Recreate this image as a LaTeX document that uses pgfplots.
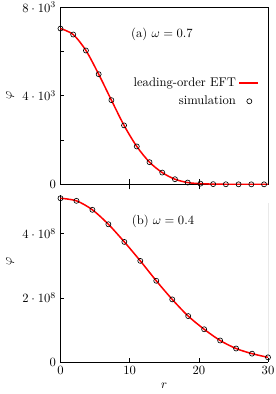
\documentclass[border=0pt]{standalone}
\usepackage{pgfplots}
\pgfplotsset{compat=1.18}
\pgfplotstableread{
r v
0.00 7030
1.84 6760
3.68 6040
5.52 4970
7.36 3800
9.19 2660
11.03 1710
12.87 1000
14.71 530
16.55 230
18.39 80
20.23 30
22.07 10
23.91 3
25.75 1
27.59 0
29.43 0
}\tabA
\pgfplotstableread{
r v
0.00 7030
1.84 6760
3.68 6040
5.52 4970
7.36 3800
9.19 2660
11.03 1710
12.87 1000
14.71 530
16.55 230
18.39 80
20.23 30
22.07 10
23.91 3
25.75 1
27.59 0
30.00 0
}\lineA
\pgfplotstableread{
r v
0.000 5.10e8
2.308 5.02e8
4.615 4.74e8
6.923 4.29e8
9.231 3.74e8
11.538 3.15e8
13.846 2.53e8
16.154 1.95e8
18.462 1.43e8
20.769 1.02e8
23.077 0.67e8
25.385 0.42e8
27.692 0.26e8
30.000 0.145e8
}\tabB
\begin{document}
\begin{tikzpicture}
\pgfplotsset{every axis/.append style={scale only axis, width=164.7pt, xmin=0, xmax=30,
  tick align=inside, major tick length=3pt,
  tick style={black, line width=0.4pt}, axis line style={line width=0.5pt},
  scaled ticks=false}}
% top panel
\begin{axis}[at={(0,141pt)}, anchor=south west, height=140.7pt,
  ymin=0, ymax=8000,
  ytick={0,2000,4000,6000,8000},
  yticklabels={$0$,,$4\cdot10^{3}$,,$8\cdot10^{3}$},
  xtick=\empty,
  extra x ticks={10,20}, extra x tick labels={},
  extra x tick style={major tick length=8pt, tick align=center, xtick pos=bottom},
  ytick pos=left,
  every axis y label/.style={at={([xshift=-40pt]axis description cs:0,0.5)}, anchor=center, rotate=90},
  ylabel={$\varphi$},
  legend style={at={(axis description cs:0.976,0.52)}, anchor=east, draw=none, row sep=2pt},
  legend cell align=right, legend plot pos=right]
\addplot[color=red, line width=1.2pt, smooth, tension=0.5,
  legend image code/.code={\pgfsetstrokecolor{red}\pgfsetlinewidth{1.3pt}\pgfpathmoveto{\pgfpoint{7pt}{0pt}}\pgfpathlineto{\pgfpoint{22pt}{0pt}}\pgfusepath{stroke}}] table[x=r,y=v]{\lineA};
\addlegendentry{leading-order EFT}
\addplot[only marks, mark=o, mark size=2pt, color=black, mark options={fill=white, line width=0.5pt},
  legend image code/.code={\draw[black, line width=0.5pt, fill=white] (15pt,0pt) circle (2pt); \path (22pt,0pt);}] table[x=r,y=v]{\tabA};
\addlegendentry{simulation}
\node at (axis description cs:0.489,0.848) {(a) $\omega=0.7$};
\end{axis}
% bottom panel
\begin{axis}[at={(0,0)}, anchor=south west, height=132.5pt,
  ymin=0, ymax=5.2e8,
  ytick={0,2e8,4e8},
  yticklabels={$0$,$2\cdot10^{8}$,$4\cdot10^{8}$},
  xtick={0,10,20,30},
  axis x line*=bottom, axis y line*=left,
  xlabel={$r$},
  every axis y label/.style={at={([xshift=-40pt]axis description cs:0,0.6)}, anchor=center, rotate=90},
  ylabel={$\varphi$}]
\addplot[color=red, line width=1.2pt, smooth, tension=0.5] table[x=r,y=v]{\tabB};
\addplot[only marks, mark=o, mark size=2pt, color=black, mark options={fill=white, line width=0.5pt}] table[x=r,y=v]{\tabB};
\draw[line width=0.5pt, black!70] (axis cs:30,0) -- (axis cs:30,4.95e8);
\node at (axis description cs:0.494,0.844) {(b) $\omega=0.4$};
\end{axis}
\pgfresetboundingbox
\path[use as bounding box] (-48pt,-25.4pt) rectangle (171pt,287.3pt);
\end{tikzpicture}
\end{document}
